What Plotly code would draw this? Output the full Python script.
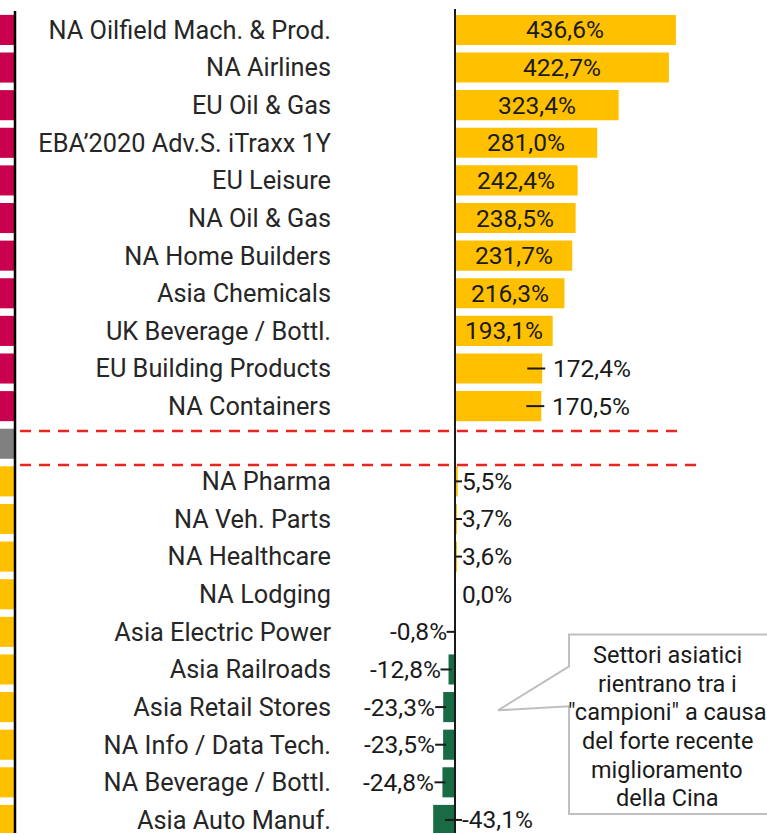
import plotly.graph_objects as go

# ---------------- data ----------------
top_labels = ["NA Oilfield Mach. & Prod.", "NA Airlines", "EU Oil & Gas",
              "EBA\u20192020 Adv.S. iTraxx 1Y", "EU Leisure", "NA Oil & Gas",
              "NA Home Builders", "Asia Chemicals", "UK Beverage / Bottl.",
              "EU Building Products", "NA Containers"]
top_values = [436.6, 422.7, 323.4, 281.0, 242.4, 238.5, 231.7, 216.3, 193.1, 172.4, 170.5]

bottom_labels = ["NA Pharma", "NA Veh. Parts", "NA Healthcare", "NA Lodging",
                 "Asia Electric Power", "Asia Railroads", "Asia Retail Stores",
                 "NA Info / Data Tech.", "NA Beverage / Bottl.", "Asia Auto Manuf."]
bottom_values = [5.5, 3.7, 3.6, 0.0, -0.8, -12.8, -23.3, -23.5, -24.8, -43.1]

callout_text = ["Settori asiatici", "rientrano tra i", "\"campioni\" a causa",
                "del forte recente", "miglioramento", "della Cina"]

# ---------------- styling ----------------
W, H = 767, 835
GOLD = "#FFC000"
GREEN = "#196B45"
CRIMSON = "#C8004E"
GRAY = "#808080"
RED = "#E8261E"
TXT = "#1a1a1a"
FONT = "Roboto"

labels = top_labels + [""] + bottom_labels
values = top_values + [None] + bottom_values
strip_colors = [CRIMSON] * len(top_labels) + [GRAY] + [GOLD] * len(bottom_labels)
n = len(labels)
ypos = list(range(n))

# pixel geometry helpers
zero_px = 455.0
k = 0.506            # px per percentage point
plot_left_px = 340.0
row0_px = 30.0
row_px = 37.71

def px_to_row(p):
    return (p - row0_px) / row_px

xr = [(plot_left_px - zero_px) / k, (W - zero_px) / k]
yr = [px_to_row(H), px_to_row(0)]

def dx(px):
    return px / k

fig = go.Figure()

# left strip (cropped neighbouring chart)
fig.add_trace(go.Bar(
    y=ypos, x=[1] * n, orientation="h", xaxis="x2", yaxis="y",
    marker=dict(color=strip_colors, line=dict(width=0)), width=0.8,
    hoverinfo="skip", showlegend=False))

bar_y = [y for y, v in zip(ypos, values) if v is not None]
bar_v = [v for v in values if v is not None]
fig.add_trace(go.Bar(
    y=bar_y, x=bar_v, orientation="h", xaxis="x", yaxis="y",
    marker=dict(color=[GOLD if v >= 0 else GREEN for v in bar_v], line=dict(width=0)),
    width=0.8, showlegend=False))

shapes = []
annotations = []

# dashed separators
for yp, xend in [(432, 685), (466, 700)]:
    shapes.append(dict(type="line", xref="paper", yref="y", x0=20 / W, x1=xend / W,
                       y0=px_to_row(yp), y1=px_to_row(yp),
                       line=dict(color=RED, width=2.5, dash="11px,8px"), layer="above"))

# zero axis
shapes.append(dict(type="line", xref="x", yref="y", x0=0, x1=0,
                   y0=px_to_row(9), y1=px_to_row(H + 5),
                   line=dict(color=TXT, width=2), layer="above"))
# strip border line
shapes.append(dict(type="line", xref="paper", yref="y", x0=15 / W, x1=15 / W,
                   y0=px_to_row(11), y1=px_to_row(H + 5),
                   line=dict(color="#000000", width=2.5), layer="above"))

def fmt(v):
    return ("%.1f%%" % v).replace(".", ",")

def leader(x0, x1, y):
    shapes.append(dict(type="line", xref="x", yref="y", x0=x0, x1=x1, y0=y, y1=y,
                       line=dict(color=TXT, width=2), layer="above"))

lab_font = dict(family=FONT, size=24.5, color=TXT)
for y, v in zip(bar_y, bar_v):
    if v >= 180:
        annotations.append(dict(x=v / 2, y=y, xref="x", yref="y", text=fmt(v),
                                showarrow=False, xanchor="center", font=lab_font))
    elif v > 10:
        leader(v - dx(15), v + dx(3), y)
        annotations.append(dict(x=v + dx(9), y=y, xref="x", yref="y", text=fmt(v),
                                showarrow=False, xanchor="left", font=lab_font))
    elif v >= 0:
        if v > 0:
            leader(dx(1), dx(7), y)
        annotations.append(dict(x=dx(5), y=y, xref="x", yref="y", text=fmt(v),
                                showarrow=False, xanchor="left", font=lab_font))
    elif v > -30:
        leader(v - dx(8), min(v + dx(3), 0), y)
        annotations.append(dict(x=v - dx(6), y=y, xref="x", yref="y", text=fmt(v),
                                showarrow=False, xanchor="right", font=lab_font))
    else:
        leader(dx(-10), dx(7), y)
        annotations.append(dict(x=dx(5), y=y, xref="x", yref="y", text=fmt(v),
                                showarrow=False, xanchor="left", font=lab_font))

# callout box with pointer
def P(x, y):
    return "%.4f,%.4f" % (x / W, 1 - y / H)

path = ("M " + P(569, 668) + " L " + P(569, 636) + " L " + P(775, 636) +
        " L " + P(775, 816) + " L " + P(569, 816) + " L " + P(569, 708) +
        " L " + P(498, 712) + " Z")
shapes.append(dict(type="path", xref="paper", yref="paper", path=path,
                   fillcolor="white", line=dict(color="#BFBFBF", width=2), layer="above"))
line_gap = 28.6
first_line_px = 657
for i, line in enumerate(callout_text):
    annotations.append(dict(x=667 / W, y=1 - (first_line_px + i * line_gap) / H,
                            xref="paper", yref="paper", text=line, showarrow=False,
                            xanchor="center", yanchor="middle",
                            font=dict(family=FONT, size=23.5, color=TXT)))

fig.update_layout(
    width=W, height=H,
    margin=dict(l=0, r=0, t=0, b=0),
    paper_bgcolor="white", plot_bgcolor="rgba(0,0,0,0)",
    bargap=0.2, showlegend=False,
    xaxis=dict(domain=[plot_left_px / W, 1], range=xr, visible=False, fixedrange=True),
    xaxis2=dict(domain=[0, 14 / W], range=[0, 1], visible=False, anchor="y"),
    yaxis=dict(range=yr, tickvals=ypos, ticktext=labels, showgrid=False, zeroline=False,
               showline=False, ticks="", ticklabelstandoff=8, anchor="x",
               ticklabeloverflow="allow",
               tickfont=dict(family=FONT, size=25.3, color="#262626")),
    shapes=shapes, annotations=annotations,
)

fig.write_html("out.html", config={"displayModeBar": False},
               post_script="document.body.style.margin='0';document.body.style.overflow='hidden';")
